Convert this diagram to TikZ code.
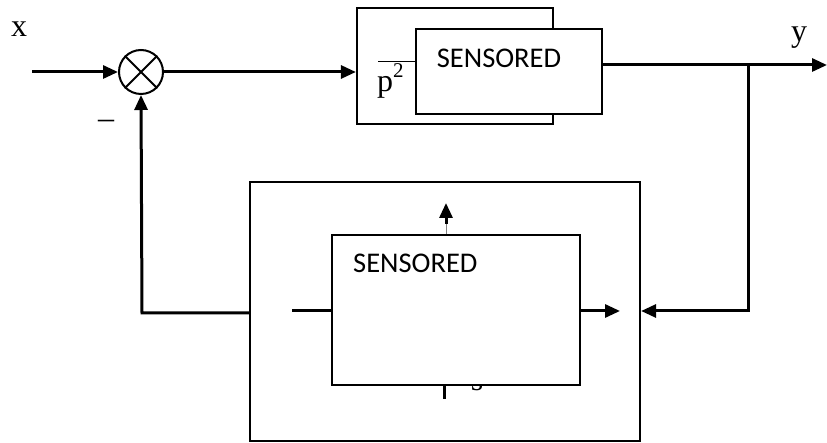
\documentclass[tikz,border=0pt]{standalone}
\usepackage{fontspec}
\setmainfont{Liberation Serif}
\newfontfamily\sensfont{Carlito}
\usetikzlibrary{arrows.meta}
\tikzset{
  sig/.style={line width=3pt, -{Triangle[length=15pt,width=13pt]}},
  sigline/.style={line width=3pt},
  blockbox/.style={draw, line width=2.2pt, inner sep=0pt, fill=white},
  sensbox/.style={draw, line width=1.8pt, inner sep=0pt, fill=white},
  senstext/.style={font=\sensfont\fontsize{28.5}{32}\selectfont, inner sep=0pt},
  lbl/.style={font=\fontsize{32}{36}\selectfont, inner sep=0pt}
}
\begin{document}
\begin{tikzpicture}[x=1pt,y=-1pt]
\useasboundingbox (0,0) rectangle (827,443);
% summing junction
\node (sum) [draw, circle, line width=2pt, minimum size=44pt, inner sep=0pt] at (141,72) {};
\draw[line width=2pt] (sum.north west) -- (sum.south east) (sum.north east) -- (sum.south west);
\coordinate (in) at (32,72);
\node (xl) [lbl, anchor=base] at (19,37) {x};
\node (minus) [lbl, anchor=base] at (106,129) {\char"2013};
% forward block
\node (G) [blockbox, minimum width=196pt, minimum height=116pt] at (455,66) {};
\coordinate (fl) at (378,62);
\coordinate (fr) at (416,62);
\draw[line width=1pt] (fl) -- (fr);
\node (num) [lbl, anchor=base] at (453,51) {2};
\node (den) [lbl, anchor=base west] at (377,92) {p\raisebox{14pt}{\fontsize{21}{24}\selectfont 2}};
\node (S1) [sensbox, minimum width=186pt, minimum height=85pt] at (509,71.5) {};
\node (S1t) [senstext, anchor=base] at (499,68) {SENSORED};
% output
\coordinate (out) at (827,65);
\coordinate (br) at (748,65);
\node (yl) [lbl, anchor=base] at (799,42) {y};
% feedback block
\node (H) [blockbox, minimum width=390pt, minimum height=259pt] at (445,311.5) {};
\coordinate (hs) at (446,224);
\coordinate (ht) at (446,203);
\node (hden) [lbl, anchor=base] at (477,390) {s};
\node (S2) [sensbox, minimum width=248pt, minimum height=150pt] at (456,310) {};
\node (S2t) [senstext, anchor=base west] at (353,273) {SENSORED};
\coordinate (il) at (292,311);
\coordinate (io) at (620,311);
\coordinate (tk) at (444,399);
\coordinate (br2) at (748,311);
\coordinate (fb) at (142,313);
% connectors
\draw[sig] (in) -- (sum.west);
\draw[sig] (sum.east) -- (G.west |- sum.east);
\draw[sig] (S1.east |- out) -- (out);
\draw[sig] (br) -- (br2) -- (H.east |- br2);
\draw[sig] (H.west |- fb) -- (fb) -- (sum.south);
\draw[sigline] (il) -- (S2.west |- il);
\draw[sig] (S2.east |- io) -- (io);
\draw[gray, line width=0.7pt] (S2.north -| hs) -- (hs);
\draw[sig] (hs) -- (ht);
\draw[sigline] (S2.south -| tk) -- (tk);
\end{tikzpicture}
\end{document}
